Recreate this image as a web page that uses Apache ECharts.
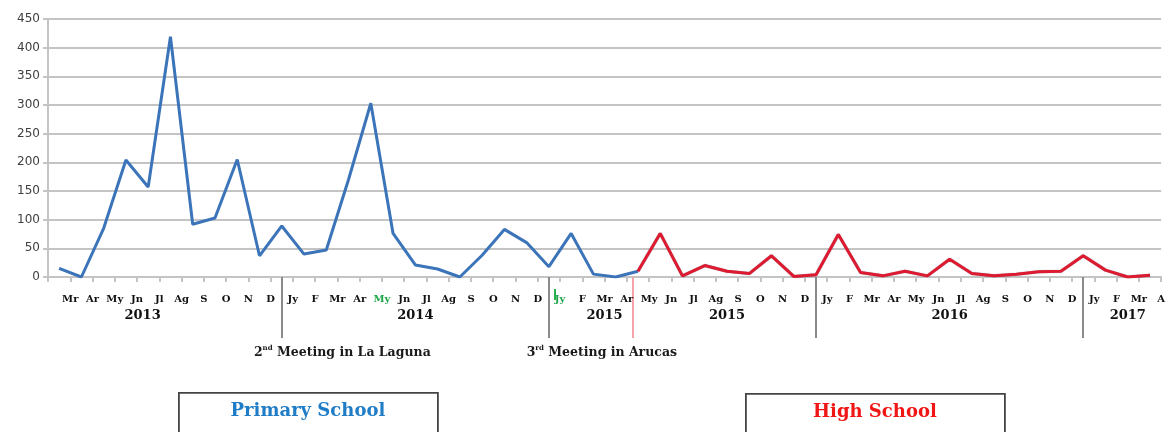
<!DOCTYPE html>
<html>
<head>
<meta charset="utf-8">
<style>
  html, body { margin: 0; padding: 0; background: #fff; }
  #chart { width: 1168px; height: 432px; }
</style>
<script src="https://cdn.jsdelivr.net/npm/echarts@6/dist/echarts.min.js"></script>
</head>
<body>
<div id="chart"></div>
<script>
// month labels, Mar 2013 .. Apr 2017
const months = [
  'Mr', 'Ar', 'My', 'Jn', 'Jl', 'Ag', 'S', 'O', 'N', 'D',
  'Jy', 'F', 'Mr', 'Ar', 'My', 'Jn', 'Jl', 'Ag', 'S', 'O', 'N', 'D',
  'Jy', 'F', 'Mr', 'Ar',
  'My', 'Jn', 'Jl', 'Ag', 'S', 'O', 'N', 'D',
  'Jy', 'F', 'Mr', 'Ar', 'My', 'Jn', 'Jl', 'Ag', 'S', 'O', 'N', 'D',
  'Jy', 'F', 'Mr', 'A'
];
const greenMonths = [14, 22];

const primarySchool = [15, 0, 85, 204, 157, 419, 92, 103, 205, 37, 89, 40, 47, 170, 303, 76,
  21, 14, 0, 38, 83, 60, 18, 76, 5, 0, 10];
const highSchool = [10, 76, 2, 20, 10, 6, 37, 1, 4, 74, 8, 2, 10, 2, 31, 6, 2, 5, 9, 10, 37, 12, 0, 3];
const highStart = 26;

const years = ['2013', '2014', '2015', '2015', '2016', '2017'];
const yearAt = [4.25, 16.5, 25, 30.5, 40.5, 48.5];   // in month-tick units

const meetingOrd = ['2', '3'];
const meetingSup = ['nd', 'rd'];
const meetingText = [' Meeting in La Laguna', ' Meeting in Arucas'];
const meetingAt = [9.25, 21.5];

const separators = [10, 22, 34, 46];
const schoolSwitch = 26.25;

const cats = months.map((m, i) => i);
const primaryData = cats.map(i => (i < primarySchool.length ? primarySchool[i] : null));
const highData = cats.map(i => (i >= highStart ? highSchool[i - highStart] : null));

const STEPS = 4;
const fineCats = Array.from({ length: months.length * STEPS + 1 }, (_, i) => i);
const serif = 'DejaVu Serif';

const chart = echarts.init(document.getElementById('chart'));

function hiddenAxis(extra) {
  return Object.assign({
    type: 'category',
    position: 'bottom',
    axisLine: { show: false },
    axisTick: { show: false },
    axisLabel: { show: false },
    splitLine: { show: false }
  }, extra);
}

chart.setOption({
  animation: false,
  grid: { left: 48, right: 3, top: 19, bottom: 155, containLabel: false },
  xAxis: [
    {
      type: 'category',
      data: cats,
      boundaryGap: true,
      position: 'bottom',
      axisLine: { lineStyle: { color: '#c4c4c4', width: 2 } },
      axisTick: { show: true, length: 5, lineStyle: { color: '#c4c4c4', width: 2 } },
      axisLabel: { show: false }
    },
    // month names
    hiddenAxis({
      data: ['', ...months],
      boundaryGap: false,
      axisLabel: {
        show: true,
        interval: 0,
        margin: 17,
        fontFamily: serif,
        fontWeight: 'bold',
        fontSize: 10,
        color: '#111',
        formatter: (v, idx) => {
          const m = idx - 1;
          if (m < 0) return '';
          return greenMonths.includes(m) ? '{g|' + months[m] + '}' : months[m];
        },
        rich: { g: { color: '#1fa64a', fontFamily: serif, fontWeight: 'bold', fontSize: 10 } }
      }
    }),
    // years
    hiddenAxis({
      data: fineCats,
      boundaryGap: false,
      axisLabel: {
        show: true,
        interval: 0,
        margin: 32,
        fontFamily: serif,
        fontWeight: 'bold',
        fontSize: 13,
        color: '#111',
        formatter: (v, idx) => {
          const k = yearAt.findIndex(t => Math.round(t * STEPS) === idx);
          return k >= 0 ? years[k] : '';
        }
      }
    }),
    // meeting notes
    hiddenAxis({
      data: fineCats,
      boundaryGap: false,
      axisLabel: {
        show: true,
        interval: 0,
        margin: 68,
        align: 'left',
        formatter: (v, idx) => {
          const k = meetingAt.findIndex(t => Math.round(t * STEPS) === idx);
          return k >= 0 ? '{n|' + meetingOrd[k] + '}{s|' + meetingSup[k] + '}{n|' + meetingText[k] + '}' : '';
        },
        rich: {
          n: { fontFamily: serif, fontWeight: 'bold', fontSize: 12.5, color: '#1a1a1a', lineHeight: 16 },
          s: { fontFamily: serif, fontWeight: 'bold', fontSize: 7, color: '#1a1a1a', lineHeight: 16, verticalAlign: 'top', padding: [0, 0, 6, 0] }
        }
      }
    }),
    // year separators
    hiddenAxis({
      data: cats,
      boundaryGap: true,
      axisTick: {
        show: true,
        alignWithLabel: true,
        length: 61,
        interval: (idx) => separators.includes(idx),
        lineStyle: { color: '#8a8a8a', width: 2 }
      }
    }),
    // primary -> high school switch
    hiddenAxis({
      data: fineCats,
      boundaryGap: false,
      axisTick: {
        show: true,
        alignWithLabel: true,
        length: 61,
        interval: (idx) => idx === Math.round(schoolSwitch * STEPS),
        lineStyle: { color: '#f4a3ab', width: 2 }
      }
    }),
    // green marker next to Jy 2015
    hiddenAxis({
      data: fineCats,
      boundaryGap: false,
      offset: 12,
      axisTick: {
        show: true,
        alignWithLabel: true,
        length: 11,
        interval: (idx) => idx === (greenMonths[1] + 0.5) * STEPS + 1,
        lineStyle: { color: '#2bb24c', width: 2 }
      }
    })
  ],
  yAxis: {
    type: 'value',
    min: 0,
    max: 450,
    interval: 50,
    axisLine: { show: true, lineStyle: { color: '#c4c4c4', width: 2 } },
    axisTick: { show: true, length: 5, lineStyle: { color: '#c4c4c4', width: 2 } },
    axisLabel: { margin: 8, fontFamily: 'DejaVu Sans', fontSize: 12, color: '#404040' },
    splitLine: { lineStyle: { color: '#c4c4c4', width: 2 } }
  },
  series: [
    {
      name: 'Primary School',
      type: 'line',
      data: primaryData,
      showSymbol: false,
      connectNulls: false,
      lineStyle: { color: '#3b74b9', width: 3 },
      itemStyle: { color: '#3b74b9' },
      z: 3
    },
    {
      name: 'High School',
      type: 'line',
      data: highData,
      showSymbol: false,
      lineStyle: { color: '#dd1a30', width: 3, shadowColor: 'rgba(40,40,80,0.45)', shadowBlur: 1 },
      itemStyle: { color: '#dd1a30' },
      z: 4
    }
  ],
  graphic: [
    {
      type: 'group',
      left: 178,
      top: 392,
      children: [
        { type: 'rect', shape: { x: 0, y: 0, width: 259, height: 60 }, style: { fill: '#fff', stroke: '#444', lineWidth: 1.8 } },
        { type: 'text', x: 129, y: 18, style: { text: 'Primary School', fill: '#1f7cc6', font: 'bold 18px "DejaVu Serif"', align: 'center', verticalAlign: 'middle' } }
      ]
    },
    {
      type: 'group',
      left: 745,
      top: 393,
      children: [
        { type: 'rect', shape: { x: 0, y: 0, width: 259, height: 60 }, style: { fill: '#fff', stroke: '#444', lineWidth: 1.8 } },
        { type: 'text', x: 129, y: 18, style: { text: 'High School', fill: '#f01616', font: 'bold 18px "DejaVu Serif"', align: 'center', verticalAlign: 'middle' } }
      ]
    }
  ]
});
</script>
</body>
</html>
